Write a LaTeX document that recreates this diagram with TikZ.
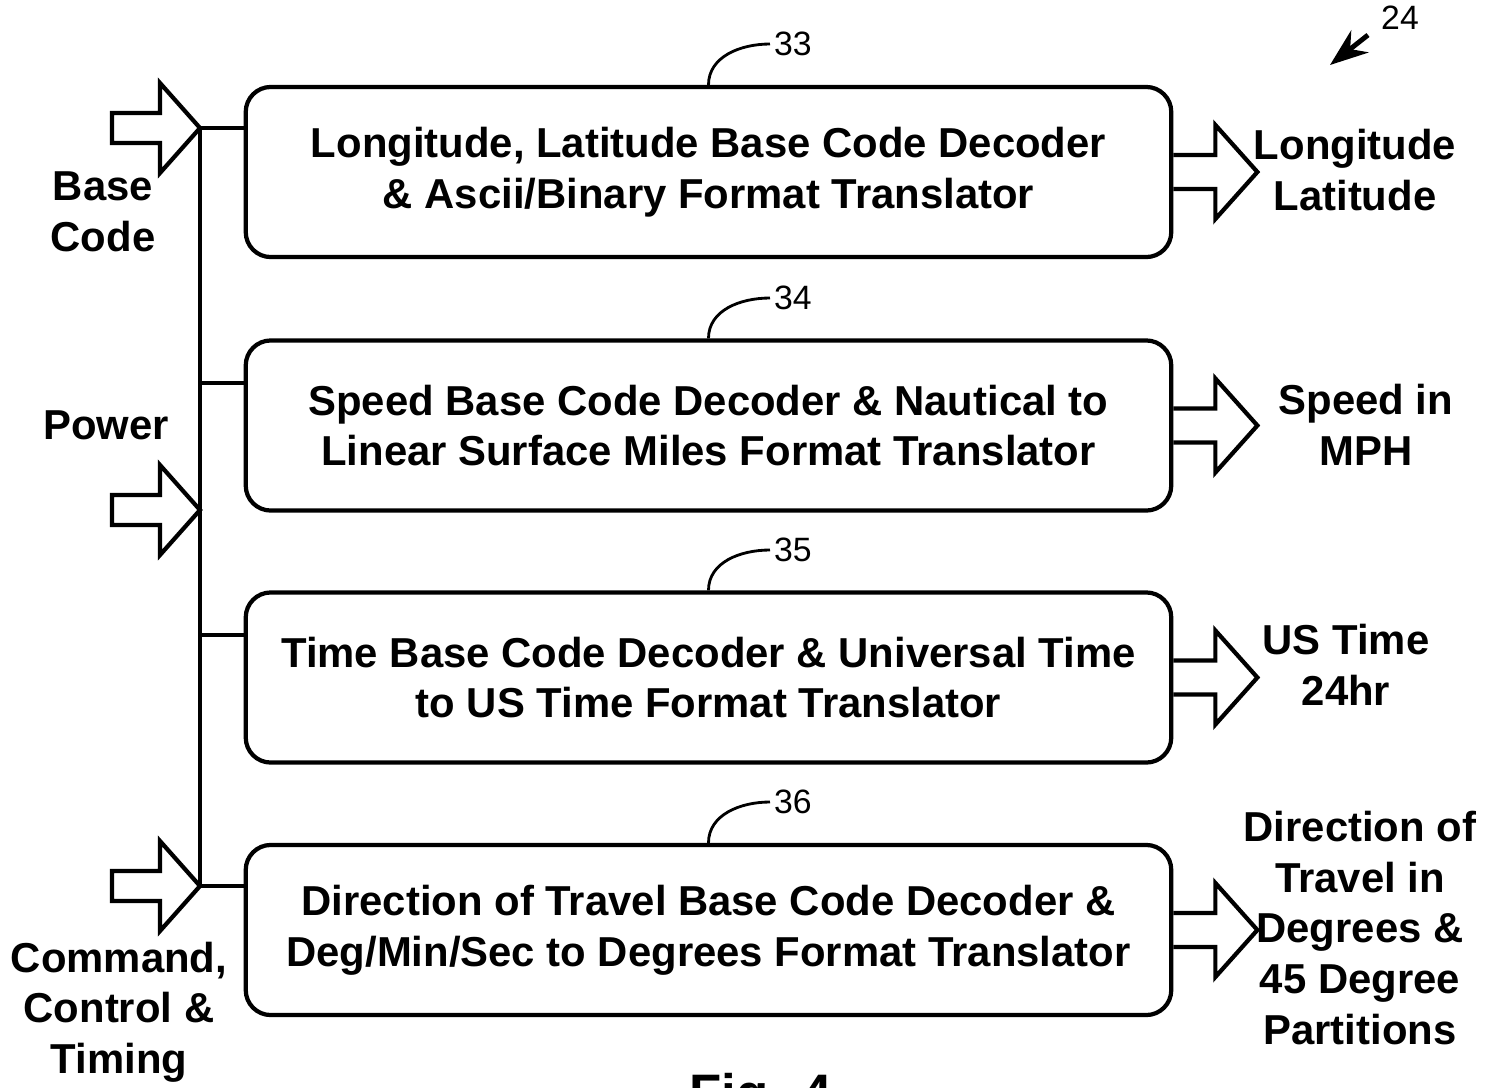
\documentclass[tikz,border=0pt]{standalone}
\usepackage{fontspec}
\setmainfont{Liberation Sans}
\usetikzlibrary{arrows.meta, positioning, calc}

\begin{document}
\begin{tikzpicture}[
    x=0.01cm, y=-0.01cm,
    block/.style  = {rectangle, draw, line width=1.2pt, rounded corners=0.25cm,
                     align=center, minimum width=9.25cm, minimum height=1.7cm,
                     font=\fontsize{11.9}{14.4}\selectfont\bfseries},
    lbl/.style    = {align=center, inner sep=0pt,
                     font=\fontsize{11.9}{14.4}\selectfont\bfseries},
    refnum/.style = {anchor=west, inner sep=1pt, font=\fontsize{9.6}{11}\selectfont},
    leader/.style = {line width=0.8pt},
    bus/.style    = {line width=1.2pt},
    hollow/.style = {line width=1.2pt, line join=miter},
    pics/inarrow/.style  = {code={
        \draw[hollow] (-88,-15) -- (-40,-15) -- (-40,-45) -- (0,0)
                      -- (-40,45) -- (-40,15) -- (-88,15) -- cycle;}},
    pics/outarrow/.style = {code={
        \draw[hollow] (0,-17) -- (42,-17) -- (42,-47) -- (84,0)
                      -- (42,47) -- (42,17) -- (0,17);}}
]
\useasboundingbox (0,0) rectangle (1487,1087);

% =====================
% Decoder blocks
% =====================
\node[block] (lonlat) at (708.5,172)
    {Longitude, Latitude Base Code Decoder\\ \& Ascii/Binary Format Translator};
\node[block] (speed)  at (708.5,425.5)
    {Speed Base Code Decoder \& Nautical to\\ Linear Surface Miles Format Translator};
\node[block] (time)   at (708.5,677.5)
    {Time Base Code Decoder \& Universal Time\\ to US Time Format Translator};
\node[block] (dir)    at (708.5,930)
    {Direction of Travel Base Code Decoder \&\\ Deg/Min/Sec to Degrees Format Translator};

% Reference numerals
\node[refnum] (n33) at (770,44)  {33};
\node[refnum] (n34) at (770,298) {34};
\node[refnum] (n35) at (770,550) {35};
\node[refnum] (n36) at (770,802) {36};
\node[refnum, anchor=center] (n24) at (1400,18) {24};

% =====================
% Input bus (left)
% =====================
\coordinate (j1) at (200,128);
\coordinate (j2) at (200,383);
\coordinate (j3) at (200,635);
\coordinate (j4) at (200,886);
\coordinate (jp) at (200,510);

\draw[bus] (j1) -- (j4);
\draw[bus] (j1) -- (j1 -| lonlat.west);
\draw[bus] (j2) -- (j2 -| speed.west);
\draw[bus] (j3) -- (j3 -| time.west);
\draw[bus] (j4) -- (j4 -| dir.west);

\pic at (j1) {inarrow};
\pic at (jp) {inarrow};
\pic at (j4) {inarrow};

\node[lbl] (basecode) at (103,212) {Base\\ Code};
\node[lbl] (power)    at (106,425) {Power};
\node[lbl] (cmd)      at (119,1012) {Command,\\ Control \&\\ Timing};

% =====================
% Outputs (right)
% =====================
\pic at (lonlat.east) {outarrow};
\pic at (speed.east)  {outarrow};
\pic at (time.east)   {outarrow};
\pic at (dir.east)    {outarrow};

\node[lbl] (out_ll)  at (1355,170) {Longitude\\ Latitude};
\node[lbl] (out_spd) at (1366,425) {Speed in\\ MPH};
\node[lbl] (out_tim) at (1346,665) {US Time\\ 24hr};
\node[lbl] (out_dir) at (1360,928)
    {Direction of\\ Travel in\\ Degrees \&\\ 45 Degree\\ Partitions};

% =====================
% Leaders
% =====================
\draw[leader] (lonlat.north) .. controls +(0,-28) and +(-30,0) .. (n33.west);
\draw[leader] (speed.north)  .. controls +(0,-28) and +(-30,0) .. (n34.west);
\draw[leader] (time.north)   .. controls +(0,-28) and +(-30,0) .. (n35.west);
\draw[leader] (dir.north)    .. controls +(0,-28) and +(-30,0) .. (n36.west);

\coordinate (tip24) at (1330,65);
\draw[line width=1.4pt, -{Stealth[length=0.38cm, width=0.28cm]}]
    (1368,35) -- (tip24);

% Figure caption (cut at the lower edge)
\node[anchor=base, inner sep=0pt, font=\fontsize{15}{18}\selectfont\bfseries]
    (cap) at (761,1111) {Fig. 4};

\end{tikzpicture}
\end{document}
